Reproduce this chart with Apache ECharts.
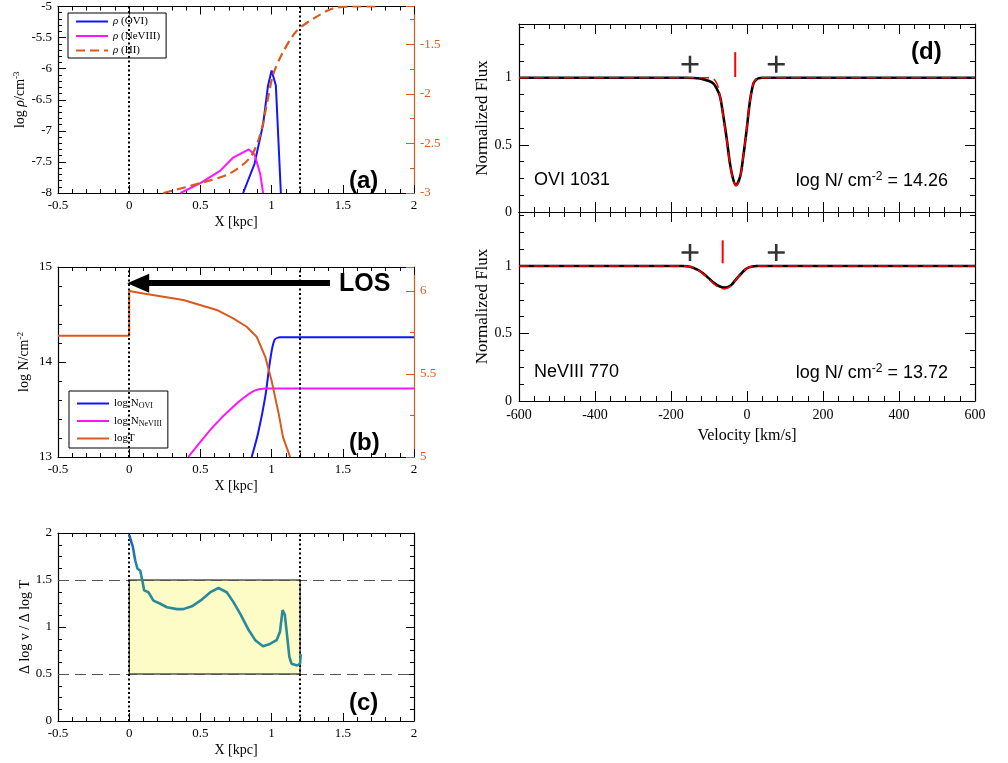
<!DOCTYPE html>
<html><head><meta charset="utf-8">
<script src="https://cdn.jsdelivr.net/npm/echarts@6/dist/echarts.min.js"></script>
<style>html,body{margin:0;padding:0;background:#fff}#c{width:1008px;height:763px}</style>
</head><body><div id="c"></div>
<script>
// ---------- Panel (a): densities ----------
const aOviX = [0.80, 0.88, 0.94, 0.975, 1.0, 1.03, 1.065];
const aOviY = [-8, -7.53, -6.9, -6.27, -6.03, -6.27, -8];
const aNeX = [0.36, 0.50, 0.64, 0.73, 0.84, 0.88, 0.92, 0.94];
const aNeY = [-8, -7.84, -7.64, -7.43, -7.3, -7.38, -7.69, -8];
const aHiX = [0.24, 0.50, 0.71, 0.85, 0.92, 0.97, 1.01, 1.08, 1.18, 1.32, 1.43, 1.57, 1.76];
const aHiY = [-3, -2.90, -2.80, -2.64, -2.41, -2.08, -1.81, -1.58, -1.36, -1.22, -1.14, -1.12, -1.12];
// ---------- Panel (b): column densities and temperature ----------
const bTX = [-0.5, 0, 0, 0.1, 0.38, 0.615, 0.73, 0.825, 0.895, 0.955, 1.0, 1.05, 1.08, 1.13];
const bTY = [5.73, 5.73, 6.0, 5.985, 5.946, 5.886, 5.835, 5.785, 5.725, 5.605, 5.46, 5.26, 5.12, 5.0];
const bOviX = [0.86, 0.905, 0.955, 0.99, 1.02, 1.06, 2];
const bOviY = [13.0, 13.25, 13.63, 14.02, 14.23, 14.26, 14.26];
const bNeX = [0.415, 0.59, 0.73, 0.87, 0.965, 2];
const bNeY = [13.0, 13.32, 13.53, 13.69, 13.72, 13.72];
const losFrom = [1.41, 14.83];
const losTo = [0.063, 14.83];
// ---------- Panel (c): slope ----------
const cX = [0.0,0.026,0.042,0.058,0.077,0.09,0.105,0.135,0.17,0.215,0.265,0.335,0.38,0.44,0.50,0.57,0.627,0.685,0.73,0.78,0.84,0.885,0.94,0.988,1.035,1.059,1.077,1.093,1.11,1.125,1.14,1.18,1.20,1.205];
const cY = [1.98,1.85,1.71,1.62,1.60,1.51,1.39,1.37,1.28,1.25,1.21,1.19,1.19,1.22,1.28,1.37,1.415,1.37,1.27,1.14,0.965,0.86,0.795,0.82,0.86,0.95,1.18,1.13,0.89,0.68,0.61,0.59,0.61,0.71];
const cBand = [0.5, 1.5];
const regionX = [0, 1.2];
// ---------- Panel (d): absorption profiles ----------
const velOvi = [-600,-160,-124,-100,-89,-80,-71,-62,-53,-45,-36,-29,-18,-10,-1,8,17,24,30,40,600];
const fluxOvi = [1,1,0.995,0.975,0.958,0.92,0.86,0.71,0.537,0.364,0.24,0.20,0.264,0.41,0.61,0.83,0.958,0.985,0.995,1,1];
const velOviM = [-600,-100,-92,-84,-76,-68,-62,-53,-45,-36,-29,-18,-10,-1,8,17,24,30,40,600];
const fluxOviM = [1,1,0.995,0.98,0.93,0.81,0.70,0.53,0.36,0.235,0.195,0.26,0.41,0.61,0.83,0.96,0.99,1,1,1];
const velNe = [-600,-170,-150,-128,-115,-101,-87,-73,-60,-50,-41,-32,-23,-13,-4,5,14,25,600];
const fluxNe = [1,1,0.995,0.97,0.945,0.91,0.875,0.85,0.84,0.845,0.86,0.89,0.92,0.95,0.975,0.99,0.997,1,1];
const fluxNeM = [1,1,0.995,0.968,0.94,0.905,0.868,0.84,0.83,0.838,0.855,0.887,0.918,0.95,0.975,0.99,0.997,1,1];
const markOviV = -31, markOviF = [1.005, 1.19];
const markNeV = -64, markNeF = [1.02, 1.19];
const plusV = [-150, 77];
const plusF = [1.10, 1.10];
const xTicksKpc = [-0.5, 2, 0.5];
const xTicksVel = [-600, 600, 200];

const SERIF = '"Liberation Serif","DejaVu Serif",serif';
const SANS = '"Liberation Sans",Arial,sans-serif';
const ORANGE = '#d95a1e', BLUE = '#1414ff', MAG = '#ff14ff';

function zip(a, b) { return a.map((v, i) => [v, b[i]]); }
function merge(t, s) {
  for (const k in s) {
    if (s[k] && typeof s[k] === 'object' && !Array.isArray(s[k]) && t[k] && typeof t[k] === 'object') merge(t[k], s[k]);
    else t[k] = s[k];
  }
  return t;
}
function ax(o) {
  return merge({
    type: 'value', splitLine: { show: false },
    axisLine: { show: true, onZero: false, lineStyle: { color: '#000', width: 1.2 } },
    axisTick: { show: true, inside: true, length: 8, lineStyle: { color: '#000' } },
    minorTick: { show: true, splitNumber: 5, length: 4, lineStyle: { color: '#000' } },
    axisLabel: { color: '#000', fontFamily: SERIF, fontSize: 13, margin: 6 },
    nameTextStyle: { color: '#000', fontFamily: SERIF, fontSize: 14,
      rich: { m: { fontSize: 14, lineHeight: 16, verticalAlign: 'middle' },
              i: { fontSize: 14, fontStyle: 'italic', lineHeight: 16, verticalAlign: 'middle' },
              sup: { fontSize: 9, lineHeight: 9, verticalAlign: 'top' } } }
  }, o);
}
function kx(grid, pos) {
  return ax({ gridIndex: grid, position: pos, min: xTicksKpc[0], max: xTicksKpc[1], interval: xTicksKpc[2],
    axisLabel: { show: pos === 'bottom' },
    name: pos === 'bottom' ? 'X [kpc]' : '', nameLocation: 'middle', nameGap: 22 });
}
function vx(grid, pos, labels) {
  return ax({ gridIndex: grid, position: pos, min: xTicksVel[0], max: xTicksVel[1], interval: xTicksVel[2],
    axisTick: { length: 10 }, minorTick: { length: 5 },
    axisLabel: { show: labels, fontSize: 14, margin: 7 },
    name: labels ? 'Velocity [km/s]' : '', nameLocation: 'middle', nameGap: 27,
    nameTextStyle: { fontSize: 16 } });
}
function fy(grid, pos) {
  const left = pos === 'left';
  return ax({ gridIndex: grid, position: pos, min: 0, max: 1.4, interval: 0.5,
    axisTick: { length: 10 }, minorTick: { splitNumber: 4, length: 5 },
    axisLabel: { show: left, showMaxLabel: false, fontSize: 14, margin: 7 },
    name: left ? 'Normalized Flux' : '', nameLocation: 'middle', nameRotate: 90, nameGap: 22,
    nameTextStyle: { fontSize: 17 } });
}

const dotted = { color: '#000', width: 2, type: [2, 2.5] };
function vlines(xs) {
  return { silent: true, symbol: 'none', label: { show: false }, lineStyle: dotted,
    emphasis: { disabled: true }, data: xs.map(v => ({ xAxis: v })) };
}

const legendRich = {
  m: { fontSize: 11, lineHeight: 13, verticalAlign: 'middle' },
  i: { fontSize: 11, lineHeight: 13, fontStyle: 'italic', verticalAlign: 'middle' },
  sub: { fontSize: 8, lineHeight: 8, verticalAlign: 'bottom' }
};
const legendNames = {
  'ρ (OVI)': '{i|ρ}{m| (OVI)}', 'ρ (NeVIII)': '{i|ρ}{m| (NeVIII)}', 'ρ (HI)': '{i|ρ}{m| (HI)}',
  'log N_OVI': '{m|log N}{sub|OVI}', 'log N_NeVIII': '{m|log N}{sub|NeVIII}', 'logT': '{m|logT}'
};

const plusPath = 'path://M-1.5,-10L1.5,-10L1.5,-1.5L10,-1.5L10,1.5L1.5,1.5L1.5,10L-1.5,10L-1.5,1.5L-10,1.5L-10,-1.5L-1.5,-1.5Z';

const option = {
  animation: false,
  backgroundColor: '#fff',
  grid: [
    { left: 58, top: 3, width: 356, height: 190 },
    { left: 58, top: 267, width: 356, height: 190 },
    { left: 58, top: 533, width: 356, height: 188 },
    { left: 519, top: 24, width: 456, height: 188 },
    { left: 519, top: 212, width: 456, height: 189 }
  ],
  legend: [
    { data: ['ρ (OVI)', 'ρ (NeVIII)', 'ρ (HI)'], orient: 'vertical', left: 68, top: 13,
      borderColor: '#000', borderWidth: 1, padding: [3, 6, 2, 7], itemGap: 3.5, itemWidth: 32, itemHeight: 10,
      itemStyle: { opacity: 0 },
      selectedMode: false, formatter: n => legendNames[n],
      textStyle: { fontFamily: SERIF, fontSize: 11, color: '#000', rich: legendRich } },
    { data: ['log N_OVI', 'log N_NeVIII', 'logT'], orient: 'vertical', left: 69, top: 391,
      borderColor: '#000', borderWidth: 1, padding: [7, 6, 4, 7], itemGap: 5.5, itemWidth: 32, itemHeight: 10,
      itemStyle: { opacity: 0 },
      selectedMode: false, formatter: n => legendNames[n],
      textStyle: { fontFamily: SERIF, fontSize: 11, color: '#000', rich: legendRich } }
  ],
  xAxis: [
    kx(0, 'bottom'), kx(0, 'top'),
    kx(1, 'bottom'), kx(1, 'top'),
    kx(2, 'bottom'), kx(2, 'top'),
    vx(3, 'bottom', false), vx(3, 'top', false),
    vx(4, 'bottom', true), vx(4, 'top', false)
  ],
  yAxis: [
    ax({ gridIndex: 0, position: 'left', min: -8, max: -5, interval: 0.5,
      name: '{m|log }{i|ρ}{m|/cm}{sup|-3}', nameLocation: 'middle', nameRotate: 90, nameGap: 28 }),
    ax({ gridIndex: 0, position: 'right', min: -3, max: -1.12, interval: 0.5,
      axisLine: { lineStyle: { color: ORANGE } }, axisTick: { lineStyle: { color: ORANGE } },
      minorTick: { splitNumber: 2, lineStyle: { color: ORANGE } },
      axisLabel: { color: ORANGE, showMaxLabel: false } }),
    ax({ gridIndex: 1, position: 'left', min: 13, max: 15, interval: 1,
      name: '{m|log N/cm}{sup|-2}', nameLocation: 'middle', nameRotate: 90, nameGap: 26 }),
    ax({ gridIndex: 1, position: 'right', min: 5, max: 6.145, interval: 0.5,
      axisLine: { lineStyle: { color: ORANGE } }, axisTick: { lineStyle: { color: ORANGE } },
      minorTick: { splitNumber: 2, lineStyle: { color: ORANGE } },
      axisLabel: { color: ORANGE, showMaxLabel: false } }),
    ax({ gridIndex: 2, position: 'left', min: 0, max: 2, interval: 0.5, minorTick: { splitNumber: 4 },
      name: 'Δ log v / Δ log T', nameLocation: 'middle', nameRotate: 90, nameGap: 26 }),
    ax({ gridIndex: 2, position: 'right', min: 0, max: 2, interval: 0.5, minorTick: { splitNumber: 4 },
      axisLabel: { show: false } }),
    fy(3, 'left'), fy(3, 'right'),
    fy(4, 'left'), fy(4, 'right')
  ],
  series: [
    // panel a
    { type: 'line', name: 'ρ (OVI)', xAxisIndex: 0, yAxisIndex: 0, data: zip(aOviX, aOviY), symbol: 'none',
      color: BLUE, lineStyle: { width: 2 }, markLine: vlines(regionX) },
    { type: 'line', name: 'ρ (NeVIII)', xAxisIndex: 0, yAxisIndex: 0, data: zip(aNeX, aNeY), symbol: 'none',
      color: MAG, lineStyle: { width: 2 } },
    { type: 'line', name: 'ρ (HI)', xAxisIndex: 0, yAxisIndex: 1, data: zip(aHiX, aHiY), symbol: 'none', smooth: 0.3,
      color: ORANGE, lineStyle: { width: 2.2, type: [9, 5] } },
    // panel b
    { type: 'line', name: 'log N_OVI', xAxisIndex: 2, yAxisIndex: 2, data: zip(bOviX, bOviY), symbol: 'none', smooth: 0.3,
      color: BLUE, lineStyle: { width: 2 }, markLine: vlines(regionX) },
    { type: 'line', name: 'log N_NeVIII', xAxisIndex: 2, yAxisIndex: 2, data: zip(bNeX, bNeY), symbol: 'none', smooth: 0.3,
      color: MAG, lineStyle: { width: 2 } },
    { type: 'line', name: 'logT', xAxisIndex: 2, yAxisIndex: 3, data: zip(bTX, bTY), symbol: 'none',
      color: ORANGE, lineStyle: { width: 2 } },
    { type: 'line', name: 'los', xAxisIndex: 2, yAxisIndex: 2, data: [], symbol: 'none',
      markLine: { silent: true, label: { show: false }, lineStyle: { color: '#000', width: 6, type: 'solid' },
        emphasis: { disabled: true },
        data: [[{ coord: losFrom, symbol: 'none' }, { coord: losTo, symbol: 'triangle', symbolSize: [19, 22] }]] } },
    // panel c
    { type: 'line', name: 'slope', xAxisIndex: 4, yAxisIndex: 4, data: zip(cX, cY), symbol: 'none', z: 5,
      lineStyle: { width: 2.6, color: { type: 'linear', x: 0, y: 0, x2: 0, y2: 1,
        colorStops: [{ offset: 0, color: '#1560c8' }, { offset: 0.3, color: '#2a8a9a' }, { offset: 1, color: '#2a8a9a' }] } },
      markArea: { silent: true, itemStyle: { color: '#fdfbc6', borderColor: '#000', borderWidth: 1 },
        data: [[{ coord: [regionX[0], cBand[0]] }, { coord: [regionX[1], cBand[1]] }]] },
      markLine: { silent: true, symbol: 'none', label: { show: false }, emphasis: { disabled: true },
        data: [
          ...cBand.map(v => ({ yAxis: v, lineStyle: { color: '#555', width: 1, type: [11, 6] } })),
          ...regionX.map(v => ({ xAxis: v, lineStyle: dotted }))
        ] } },
    // panel d top
    { type: 'line', name: 'oviB', xAxisIndex: 6, yAxisIndex: 6, data: zip(velOvi, fluxOvi), symbol: 'none', smooth: 0.3,
      color: '#000', lineStyle: { width: 2.6 } },
    { type: 'line', name: 'oviR', xAxisIndex: 6, yAxisIndex: 6, data: zip(velOviM, fluxOviM), symbol: 'none', smooth: 0.3,
      color: '#ff0000', lineStyle: { width: 1.6, type: [10, 5] }, z: 4 },
    { type: 'line', name: 'oviMark', xAxisIndex: 6, yAxisIndex: 6, data: markOviF.map(f => [markOviV, f]), symbol: 'none',
      color: '#ff0000', lineStyle: { width: 2 } },
    { type: 'scatter', name: 'oviPlus', xAxisIndex: 6, yAxisIndex: 6, data: zip(plusV, plusF), symbol: plusPath,
      symbolSize: 17, itemStyle: { color: '#000' } },
    // panel d bottom
    { type: 'line', name: 'neB', xAxisIndex: 8, yAxisIndex: 8, data: zip(velNe, fluxNe), symbol: 'none', smooth: 0.3,
      color: '#000', lineStyle: { width: 2.6 } },
    { type: 'line', name: 'neR', xAxisIndex: 8, yAxisIndex: 8, data: zip(velNe, fluxNeM), symbol: 'none', smooth: 0.3,
      color: '#ff0000', lineStyle: { width: 1.6, type: [10, 5] }, z: 4 },
    { type: 'line', name: 'neMark', xAxisIndex: 8, yAxisIndex: 8, data: markNeF.map(f => [markNeV, f]), symbol: 'none',
      color: '#ff0000', lineStyle: { width: 2 } },
    { type: 'scatter', name: 'nePlus', xAxisIndex: 8, yAxisIndex: 8, data: zip(plusV, plusF), symbol: plusPath,
      symbolSize: 17, itemStyle: { color: '#000' } }
  ],
  graphic: [
    { type: 'text', x: 349, y: 181, style: { text: '(a)', font: 'bold 24px ' + SANS, fill: '#000', verticalAlign: 'middle' } },
    { type: 'text', x: 349, y: 443, style: { text: '(b)', font: 'bold 24px ' + SANS, fill: '#000', verticalAlign: 'middle' } },
    { type: 'text', x: 349, y: 703, style: { text: '(c)', font: 'bold 24px ' + SANS, fill: '#000', verticalAlign: 'middle' } },
    { type: 'text', x: 911, y: 52, style: { text: '(d)', font: 'bold 24px ' + SANS, fill: '#000', verticalAlign: 'middle' } },
    { type: 'text', x: 339, y: 284, style: { text: 'LOS', font: 'bold 25px ' + SANS, fill: '#000', verticalAlign: 'middle' } },
    { type: 'text', x: 534, y: 180, style: { text: 'OVI 1031', font: '18px ' + SANS, fill: '#000', verticalAlign: 'middle' } },
    { type: 'text', x: 534, y: 372, style: { text: 'NeVIII 770', font: '18px ' + SANS, fill: '#000', verticalAlign: 'middle' } },
    { type: 'text', x: 948, y: 181, style: { text: '{m|log N/ cm}{s|-2}{m| = 14.26}', align: 'right', verticalAlign: 'middle',
      font: '18px ' + SANS, fill: '#000',
      rich: { m: { fontSize: 18, lineHeight: 20, verticalAlign: 'middle', fontFamily: SANS }, s: { fontSize: 12, lineHeight: 12, verticalAlign: 'top', fontFamily: SANS } } } },
    { type: 'text', x: 948, y: 373, style: { text: '{m|log N/ cm}{s|-2}{m| = 13.72}', align: 'right', verticalAlign: 'middle',
      font: '18px ' + SANS, fill: '#000',
      rich: { m: { fontSize: 18, lineHeight: 20, verticalAlign: 'middle', fontFamily: SANS }, s: { fontSize: 12, lineHeight: 12, verticalAlign: 'top', fontFamily: SANS } } } }
  ]
};
const chart = echarts.init(document.getElementById('c'));
chart.setOption(option);
</script></body></html>
